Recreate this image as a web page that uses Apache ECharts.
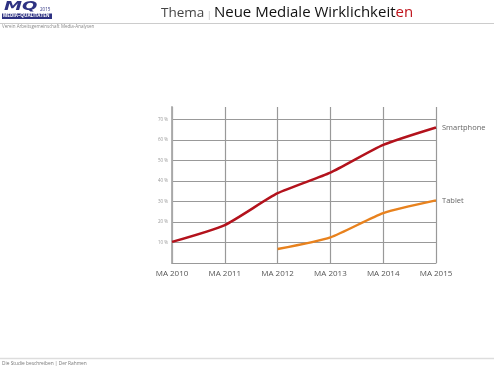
<!DOCTYPE html>
<html><head><meta charset="utf-8">
<script src="https://cdn.jsdelivr.net/npm/echarts@6/dist/echarts.min.js"></script>
<style>html,body{margin:0;padding:0;background:#fff}#c{width:494px;height:368px}</style>
</head><body><div id="c"></div>
<script>
const categories = ['MA 2010','MA 2011','MA 2012','MA 2013','MA 2014','MA 2015'];
const smartphone = [10.3, 18.5, 34, 44, 57.5, 66];
const tablet = [null, null, 6.8, 12.5, 24.3, 30.5];
const yTicks = [0, 10, 20, 30, 40, 50, 60, 70];
const seriesNames = ['Smartphone', 'Tablet'];

const chart = echarts.init(document.getElementById('c'), null, {renderer: 'canvas'});
const font = '"Open Sans", "Noto Sans", sans-serif';
chart.setOption({
  animation: false,
  backgroundColor: '#fff',
  grid: {left: 172, right: 58, top: 107, bottom: 105},
  xAxis: {
    type: 'category', data: categories, boundaryGap: false,
    axisLine: {show: true, lineStyle: {color: '#999', width: 1.2}},
    axisTick: {show: false},
    axisLabel: {color: '#555', fontSize: 8, fontFamily: font, margin: 7},
    splitLine: {show: true, lineStyle: {color: '#999', width: 1.2}}
  },
  yAxis: {
    type: 'value', min: 0, max: 76, interval: 10,
    axisLine: {show: true, lineStyle: {color: '#aaa', width: 1.8}},
    axisTick: {show: false},
    axisLabel: {color: '#999', fontSize: 4.5, fontFamily: font, margin: 4,
      showMinLabel: false, showMaxLabel: false,
      formatter: v => yTicks.includes(v) && v > 0 ? v + ' %' : ''},
    splitLine: {show: true, showMaxLine: false, lineStyle: {color: '#999', width: 1.2}}
  },
  series: [
    {name: seriesNames[0], type: 'line', data: smartphone, smooth: 0.2, symbol: 'none',
     lineStyle: {color: '#b3121c', width: 2.5},
     endLabel: {show: true, formatter: seriesNames[0], color: '#666', fontSize: 7.5, fontFamily: font, distance: 6}},
    {name: seriesNames[1], type: 'line', data: tablet, smooth: 0.2, symbol: 'none',
     lineStyle: {color: '#e8821e', width: 2.5},
     endLabel: {show: true, formatter: seriesNames[1], color: '#666', fontSize: 7.5, fontFamily: font, distance: 6}}
  ],
  graphic: [
    {type: 'text', x: 4, y: 0.5, scaleX: 1.45, style: {text: 'MQ', font: 'italic 900 12.5px "DejaVu Sans", sans-serif', fill: '#2e3282'}},
    {type: 'text', left: 40, top: 7.5, style: {text: '2015', font: '4.5px "Open Sans", sans-serif', fill: '#2e3282'}},
    {type: 'rect', shape: {x: 2, y: 13.5, width: 50, height: 5.5}, style: {fill: '#2e3282'}},
    {type: 'text', left: 3, top: 13.5, style: {text: 'MEDIA–QUALITÄTEN', font: 'bold 4.6px "Open Sans", sans-serif', fill: '#fff'}},
    {type: 'text', left: 2, top: 24.5, style: {text: 'Verein Arbeitsgemeinschaft Media-Analysen', font: '4.5px "Open Sans", sans-serif', fill: '#888'}},
    {type: 'text', left: 161, top: 5, style: {
      text: '{g|Thema}{s| | }{k|Neue Mediale Wirklichkeit}{r|en}',
      rich: {
        g: {font: '13.5px "Open Sans", sans-serif', fill: '#444', padding: [1, 0, 0, 0]},
        s: {font: '9px "Open Sans", sans-serif', fill: '#bbb', padding: [6, 0, 0, 0]},
        k: {font: '15px "Open Sans", sans-serif', fill: '#111'},
        r: {font: '15px "Open Sans", sans-serif', fill: '#c0141c'}
      }}},
    {type: 'line', shape: {x1: 0, y1: 23.5, x2: 494, y2: 23.5}, style: {stroke: '#ccc', lineWidth: 1}},
    {type: 'line', shape: {x1: 0, y1: 358.5, x2: 494, y2: 358.5}, style: {stroke: '#ddd', lineWidth: 1.5}},
    {type: 'text', left: 2, top: 361, style: {text: 'Die Studie beschreiben | Der Rahmen', font: '4.8px "Open Sans", sans-serif', fill: '#777'}}
  ]
});
</script></body></html>
